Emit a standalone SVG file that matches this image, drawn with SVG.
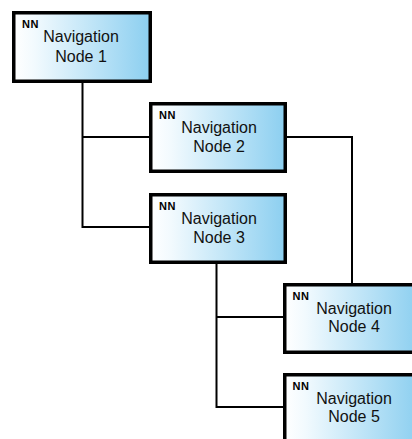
<svg xmlns="http://www.w3.org/2000/svg" width="412" height="439" viewBox="0 0 412 439">
<defs>
<linearGradient id="g" x1="0" y1="0" x2="1" y2="0">
<stop offset="0" stop-color="#ffffff"/>
<stop offset="0.15" stop-color="#f2fafe"/>
<stop offset="1" stop-color="#8ccff0"/>
</linearGradient>
</defs>
<style>
.box{fill:url(#g);stroke:#000;stroke-width:3.5}
.nn{font-family:"Liberation Sans",Arial,sans-serif;font-weight:bold;font-size:11px;fill:#000;letter-spacing:0.5px}
.t{font-family:"Liberation Sans",Arial,sans-serif;font-size:16px;fill:#111;text-anchor:middle}
.c{fill:none;stroke:#000;stroke-width:2}
</style>
<rect width="412" height="439" fill="#fff"/>
<g id="connectors">
<polyline class="c" points="82.5,83 82.5,227 149,227"/>
<line class="c" x1="82.5" y1="137" x2="149" y2="137"/>
<polyline class="c" points="286,137 352,137 352,283"/>
<polyline class="c" points="216.5,263 216.5,407 283,407"/>
<line class="c" x1="216.5" y1="317" x2="283" y2="317"/>
</g>
<g id="node1">
<rect class="box" x="13.75" y="12.75" width="136.5" height="68.5"/>
<text class="nn" x="22" y="27.5">NN</text>
<text class="t" x="81" y="41.7">Navigation</text>
<text class="t" x="81" y="61.7">Node 1</text>
</g>
<g id="node2">
<rect class="box" x="150.75" y="103.75" width="134.5" height="67.5"/>
<text class="nn" x="159" y="118.5">NN</text>
<text class="t" x="219" y="133">Navigation</text>
<text class="t" x="219" y="152">Node 2</text>
</g>
<g id="node3">
<rect class="box" x="150.75" y="194.75" width="134.5" height="67.5"/>
<text class="nn" x="159" y="209.5">NN</text>
<text class="t" x="219" y="224">Navigation</text>
<text class="t" x="219" y="243">Node 3</text>
</g>
<g id="node4">
<rect class="box" x="284.75" y="284.75" width="134.5" height="67.5"/>
<text class="nn" x="292.5" y="299.7">NN</text>
<text class="t" x="354" y="314.3">Navigation</text>
<text class="t" x="354" y="332.3">Node 4</text>
</g>
<g id="node5">
<rect class="box" x="284.75" y="374.75" width="134.5" height="67.5"/>
<text class="nn" x="292.5" y="389.7">NN</text>
<text class="t" x="354" y="404.3">Navigation</text>
<text class="t" x="354" y="422.3">Node 5</text>
</g>
</svg>
